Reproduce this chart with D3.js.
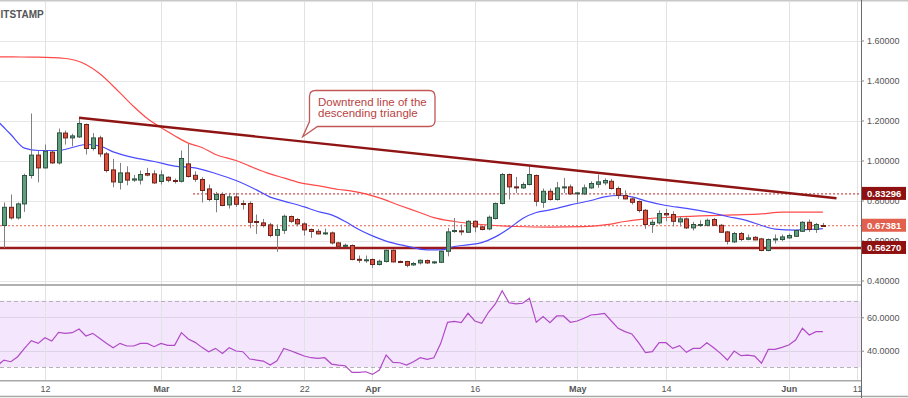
<!DOCTYPE html>
<html>
<head>
<meta charset="utf-8">
<script src="https://cdn.jsdelivr.net/npm/d3@7"></script>
<style>
html, body { margin: 0; padding: 0; background: #fff; overflow: hidden; }
svg { display: block; font-family: "Liberation Sans", Arial, sans-serif; }
</style>
</head>
<body>
<script>
// XRP/USD daily, Bitstamp -- candles from Feb 6 2018 (day 0) to Jun 6 2018 (day 120)
var startDay = "2018-02-06";
var endDay = "2018-06-11";

var opens = [0.675,0.766,0.713,0.783,0.925,1.027,0.963,1.042,0.988,1.137,
  1.113,1.118,1.18,1.06,1.113,1.033,0.953,0.891,0.938,0.902,
  0.902,0.935,0.933,0.895,0.916,0.9,0.896,0.983,0.926,0.905,
  0.858,0.805,0.83,0.778,0.818,0.785,0.785,0.695,0.688,0.678,
  0.626,0.651,0.72,0.705,0.683,0.655,0.646,0.633,0.638,0.588,
  0.571,0.575,0.506,0.5,0.505,0.48,0.495,0.551,0.495,0.495,
  0.478,0.488,0.5,0.488,0.491,0.546,0.645,0.648,0.641,0.696,
  0.668,0.658,0.71,0.785,0.93,0.868,0.863,0.88,0.925,0.791,
  0.846,0.805,0.863,0.868,0.833,0.833,0.863,0.881,0.888,0.896,
  0.86,0.825,0.808,0.795,0.751,0.68,0.688,0.735,0.73,0.693,
  0.708,0.663,0.675,0.676,0.705,0.676,0.643,0.593,0.635,0.606,
  0.616,0.608,0.55,0.603,0.605,0.613,0.621,0.646,0.691,0.655,
  0.675];
var highs = [0.79,0.83,0.79,0.934,1.235,1.047,1.08,1.05,1.16,1.15,
  1.134,1.213,1.185,1.137,1.124,1.042,1.008,0.988,0.971,0.928,
  0.95,0.963,0.951,0.951,0.921,0.91,1.05,1.083,0.946,0.916,
  0.88,0.843,0.841,0.838,0.838,0.801,0.796,0.73,0.708,0.688,
  0.68,0.73,0.725,0.713,0.691,0.66,0.658,0.66,0.645,0.593,
  0.585,0.58,0.525,0.525,0.51,0.505,0.555,0.555,0.5,0.498,
  0.493,0.505,0.505,0.498,0.55,0.663,0.713,0.68,0.701,0.701,
  0.675,0.725,0.79,0.938,0.935,0.918,0.891,0.975,0.93,0.86,
  0.86,0.893,0.913,0.88,0.843,0.88,0.896,0.93,0.911,0.908,
  0.87,0.851,0.818,0.8,0.758,0.705,0.751,0.758,0.746,0.721,
  0.715,0.693,0.701,0.71,0.713,0.683,0.648,0.643,0.643,0.63,
  0.622,0.613,0.61,0.63,0.63,0.634,0.655,0.697,0.705,0.688,
  0.688];
var lows = [0.563,0.705,0.705,0.743,0.91,0.891,0.96,0.983,0.98,1.08,
  1.071,1.113,1.03,1.05,1.017,0.94,0.866,0.855,0.876,0.893,
  0.88,0.921,0.883,0.88,0.891,0.885,0.89,0.915,0.893,0.79,
  0.796,0.741,0.771,0.76,0.768,0.755,0.661,0.633,0.665,0.616,
  0.543,0.633,0.688,0.671,0.625,0.613,0.63,0.628,0.58,0.565,
  0.568,0.501,0.488,0.488,0.463,0.475,0.49,0.49,0.488,0.466,
  0.473,0.48,0.482,0.483,0.487,0.521,0.638,0.626,0.638,0.641,
  0.651,0.651,0.705,0.78,0.805,0.838,0.858,0.875,0.771,0.763,
  0.8,0.8,0.838,0.828,0.788,0.828,0.858,0.863,0.876,0.855,
  0.808,0.806,0.78,0.74,0.658,0.638,0.68,0.696,0.671,0.67,
  0.658,0.65,0.668,0.67,0.675,0.638,0.58,0.588,0.597,0.601,
  0.601,0.546,0.546,0.585,0.597,0.61,0.618,0.643,0.643,0.638,
  0.668];
var closes = [0.766,0.713,0.783,0.925,1.027,0.963,1.046,0.988,1.138,1.113,
  1.123,1.185,1.06,1.113,1.033,0.95,0.893,0.938,0.902,0.908,
  0.93,0.927,0.888,0.928,0.901,0.895,1.01,0.92,0.906,0.85,
  0.805,0.83,0.775,0.818,0.781,0.781,0.691,0.691,0.675,0.625,
  0.655,0.721,0.696,0.683,0.653,0.645,0.633,0.638,0.588,0.571,
  0.576,0.505,0.503,0.5035,0.48,0.496,0.551,0.493,0.491,0.476,
  0.485,0.501,0.488,0.493,0.546,0.643,0.65,0.643,0.696,0.668,
  0.655,0.716,0.785,0.93,0.868,0.863,0.88,0.93,0.796,0.846,
  0.805,0.863,0.868,0.833,0.838,0.863,0.885,0.893,0.9,0.86,
  0.826,0.808,0.791,0.75,0.68,0.691,0.735,0.728,0.696,0.708,
  0.663,0.68,0.68,0.701,0.676,0.641,0.596,0.635,0.605,0.613,
  0.603,0.55,0.605,0.608,0.618,0.625,0.65,0.691,0.655,0.68,
  0.6738];

// moving averages (day offset from startDay)
var sma20Days = [-1,0,1,3,5,8,10,12,14,16,19,22,25,28,31,34,37,39,41,44,46,48,50,52,54,56,59,62,64,66,68,70,72,74,76,78,80,83,86,88,90,92,94,97,100,103,106,109,111,113,116,118,120];
var sma20 = [1.2,1.165,1.13,1.062,1.05,1.05,1.065,1.08,1.073,1.043,1.014,0.995,0.972,0.963,0.935,0.9,0.853,0.817,0.797,0.768,0.745,0.728,0.695,0.655,0.623,0.597,0.572,0.553,0.553,0.57,0.578,0.589,0.618,0.66,0.71,0.74,0.753,0.778,0.8,0.818,0.825,0.818,0.798,0.775,0.761,0.743,0.72,0.698,0.675,0.657,0.652,0.655,0.659];
var sma50Days = [-1,0,5,9,12,14,17,19,21,23,25,27,29,31,34,36,39,41,44,46,49,51,53,55,58,61,63,66,70,75,80,85,88,91,94,97,102,107,111,114,120];
var sma50 = [1.519,1.518,1.517,1.51,1.48,1.435,1.338,1.27,1.21,1.165,1.124,1.087,1.065,1.03,1.0,0.972,0.933,0.913,0.884,0.874,0.855,0.847,0.833,0.813,0.775,0.739,0.714,0.695,0.68,0.67,0.667,0.669,0.678,0.695,0.708,0.715,0.723,0.728,0.733,0.742,0.742];

// RSI(14), day -1 .. day 120
var rsiFirstDay = -1;
var rsi = [31,34.4,33.4,36.4,41.4,46,44.4,47.8,45.8,51,50.4,
  50.8,53,48.8,50.4,47.4,44.4,41.8,44.4,42.8,42.8,
  44.4,44.4,42.4,44.4,43.2,43.2,50.8,47,45,42,
  39.4,41.4,38.4,41.8,39.8,39.4,35,34.4,33.8,31.4,
  34,41.4,40,38.4,36.8,35.8,35.4,35.8,32,31.4,
  31,27,27,27.4,25.8,28.4,37.4,33,32.8,31.4,
  33.4,35.8,34.8,35.8,44.4,57,57.5,56.8,62.4,57.8,
  56.4,63,68,75.9,68.7,68,68.4,71.4,57,60.4,
  56.8,60.8,60.8,57,57.8,59.4,61.4,61.8,62.4,57.8,
  53.4,51.4,50,44.8,38.8,39.4,44.8,44.8,41.4,43,
  39,41.4,41.4,44.8,41.8,38.4,34.4,39.8,37,37.4,
  36.8,32.5,40.8,40.8,42,43.4,46.4,53.4,49.4,51.4,51.4];

var priceTicks = [0.4, 0.6, 0.8, 1.0, 1.2, 1.4, 1.6];
var rsiTicks = [40, 60];
var rsiBand = [30, 70];
var dateTicks = ["2018-02-12","2018-03-01","2018-03-12","2018-03-22","2018-04-01","2018-04-16","2018-05-01","2018-05-14","2018-06-01","2018-06-11"];
var dateLabels = ["12","Mar","12","22","Apr","16","May","14","Jun","11"];

var resistance = 0.83296, resistanceFrom = 28;
var lastPrice = 0.67381;
var support = 0.56270;
var trendDays = [11, 122];
var trendValues = [1.2135, 0.8115];
var noteLines = ["Downtrend line of the", "descending triangle"];
var titleText = "ITSTAMP";   // the part of the symbol title left inside the frame

var width = 908, height = 398, axisX = 861;
var priceTop = 2, priceBottom = 284, rsiTop = 286, rsiBottom = 380;

var parseDay = d3.utcParse("%Y-%m-%d");
var day0 = parseDay(startDay);
function dayAt(i) { return d3.utcDay.offset(day0, i); }

var x = d3.scaleUtc()
    .domain([day0, parseDay(endDay)])
    .range([4, 857]);
var y = d3.scaleLinear()
    .domain([0.4, 1.6])
    .range([280.5, 40.5]);
var yr = d3.scaleLinear()
    .domain([40, 60])
    .range([350.7, 317.3]);

var svg = d3.select("body")
    .append("svg")
    .attr("width", width)
    .attr("height", height);

var defs = svg.append("defs");
defs.append("clipPath").attr("id", "clipPrice")
    .append("rect").attr("x", 0).attr("y", priceTop).attr("width", axisX).attr("height", priceBottom - priceTop);
defs.append("clipPath").attr("id", "clipRsi")
    .append("rect").attr("x", 0).attr("y", rsiTop).attr("width", axisX).attr("height", rsiBottom - rsiTop);

var tickDates = dateTicks.map(parseDay);

// RSI band first so the grid shows on top of it
svg.append("rect")
    .attr("x", 0).attr("width", axisX)
    .attr("y", yr(rsiBand[1])).attr("height", yr(rsiBand[0]) - yr(rsiBand[1]))
    .attr("fill", "#f4e6fd");

// grid
var grid = svg.append("g");
grid.selectAll(".hgrid").data(priceTicks).enter().append("line")
    .attr("x1", 0).attr("x2", axisX)
    .attr("y1", function(d) { return Math.round(y(d)) + 0.5; })
    .attr("y2", function(d) { return Math.round(y(d)) + 0.5; })
    .attr("stroke", "#e6e6e6");
grid.selectAll(".rgrid").data(rsiTicks).enter().append("line")
    .attr("x1", 0).attr("x2", axisX)
    .attr("y1", function(d) { return Math.round(yr(d)) + 0.5; })
    .attr("y2", function(d) { return Math.round(yr(d)) + 0.5; })
    .attr("stroke", "#ddd3e6");
[[priceTop, priceBottom], [rsiTop, rsiBottom]].forEach(function(span) {
    grid.selectAll(null).data(tickDates).enter().append("line")
        .attr("x1", function(d) { return Math.round(x(d)) + 0.5; })
        .attr("x2", function(d) { return Math.round(x(d)) + 0.5; })
        .attr("y1", span[0]).attr("y2", span[1])
        .attr("stroke", "#e2e2e2");
});
svg.selectAll(".band").data(rsiBand).enter().append("line")
    .attr("x1", 0).attr("x2", axisX)
    .attr("y1", function(d) { return Math.round(yr(d)) + 0.5; })
    .attr("y2", function(d) { return Math.round(yr(d)) + 0.5; })
    .attr("stroke", "#b4b4b4")
    .attr("stroke-dasharray", "4,3");

// price panel
var plot = svg.append("g").attr("clip-path", "url(#clipPrice)");

plot.append("line")
    .attr("x1", x(dayAt(resistanceFrom)) - 2).attr("x2", axisX)
    .attr("y1", y(resistance)).attr("y2", y(resistance))
    .attr("stroke", "#b22222").attr("stroke-width", 1)
    .attr("stroke-dasharray", "2,2");
plot.append("line")
    .attr("x1", 0).attr("x2", axisX)
    .attr("y1", y(lastPrice)).attr("y2", y(lastPrice))
    .attr("stroke", "#e8604f").attr("stroke-width", 1)
    .attr("stroke-dasharray", "2,2");
plot.append("line")
    .attr("x1", 0).attr("x2", axisX)
    .attr("y1", y(support)).attr("y2", y(support))
    .attr("stroke", "#9a1b1b").attr("stroke-width", 2.6);

var maLine = d3.line()
    .x(function(d) { return x(dayAt(d[0])); })
    .y(function(d) { return y(d[1]); })
    .curve(d3.curveMonotoneX);

plot.append("path")
    .datum(d3.zip(sma50Days, sma50))
    .attr("d", maLine)
    .attr("fill", "none").attr("stroke", "#ff4a4a").attr("stroke-width", 1.2);
plot.append("path")
    .datum(d3.zip(sma20Days, sma20))
    .attr("d", maLine)
    .attr("fill", "none").attr("stroke", "#4b4bff").attr("stroke-width", 1.2);

// candles
var candles = opens.map(function(o, i) {
    return { date: dayAt(i), open: o, high: highs[i], low: lows[i], close: closes[i] };
});
var bodyW = 4;
var candle = plot.selectAll(".candle")
    .data(candles)
    .enter().append("g")
    .attr("class", "candle");
candle.append("line")
    .attr("x1", function(d) { return Math.round(x(d.date)) + 0.5; })
    .attr("x2", function(d) { return Math.round(x(d.date)) + 0.5; })
    .attr("y1", function(d) { return y(d.high); })
    .attr("y2", function(d) { return y(d.low); })
    .attr("stroke", "#808080");
candle.append("rect")
    .attr("x", function(d) { return Math.round(x(d.date)) + 0.5 - bodyW / 2; })
    .attr("y", function(d) { return y(Math.max(d.open, d.close)); })
    .attr("width", bodyW)
    .attr("height", function(d) { return Math.max(1, Math.abs(y(d.open) - y(d.close))); })
    .attr("fill", function(d) { return d.close >= d.open ? "#5f9e7e" : "#d9503e"; })
    .attr("stroke", function(d) { return d.close >= d.open ? "#2f5442" : "#6e2219"; })
    .attr("stroke-width", 1);

// trend line
plot.append("line")
    .attr("x1", x(dayAt(trendDays[0]))).attr("y1", y(trendValues[0]))
    .attr("x2", x(dayAt(trendDays[1]))).attr("y2", y(trendValues[1]))
    .attr("stroke", "#8f1414").attr("stroke-width", 2.4);

// callout
var bx = 309.5, by = 90.5, bw = 125.5, bh = 36, r = 6;
var tip = [302.7, 136.7];
var callout = "M" + (bx + r) + "," + by
    + "H" + (bx + bw - r) + "Q" + (bx + bw) + "," + by + " " + (bx + bw) + "," + (by + r)
    + "V" + (by + bh - r) + "Q" + (bx + bw) + "," + (by + bh) + " " + (bx + bw - r) + "," + (by + bh)
    + "H" + (bx + 8) + "L" + tip[0] + "," + tip[1]
    + "L" + bx + "," + (by + bh - 5)
    + "V" + (by + r) + "Q" + bx + "," + by + " " + (bx + r) + "," + by + "Z";
svg.append("path")
    .attr("d", callout)
    .attr("fill", "#fff")
    .attr("stroke", "#c25757").attr("stroke-width", 1.3);
svg.append("g").selectAll("text").data(noteLines).enter().append("text")
    .attr("x", 318)
    .attr("y", function(d, i) { return 106 + i * 11; })
    .attr("fill", "#b84444")
    .style("font-size", "11.5px")
    .text(function(d) { return d; });

// RSI line
svg.append("g").attr("clip-path", "url(#clipRsi)")
    .append("path")
    .datum(rsi)
    .attr("d", d3.line()
        .x(function(d, i) { return x(dayAt(i + rsiFirstDay)); })
        .y(function(d) { return yr(d); }))
    .attr("fill", "none").attr("stroke", "#b04ac6").attr("stroke-width", 1.2);

// panel borders
svg.append("rect").attr("x", 0).attr("y", 0).attr("width", width).attr("height", 1.5).attr("fill", "#c8c8c8");
svg.append("rect").attr("x", 0).attr("y", priceBottom).attr("width", axisX).attr("height", 2).attr("fill", "#b0b0b0");
svg.append("rect").attr("x", 0).attr("y", rsiBottom).attr("width", axisX).attr("height", 1.5).attr("fill", "#a8a8a8");
svg.append("rect").attr("x", 0).attr("y", 395.7).attr("width", width).attr("height", 1.5).attr("fill", "#a8a8a8");
svg.append("line")
    .attr("x1", axisX + 0.5).attr("x2", axisX + 0.5).attr("y1", 0).attr("y2", height)
    .attr("stroke", "#6a6a6a");

// axes
function styleAxis(g) {
    g.select(".domain").remove();
    g.selectAll(".tick line").attr("stroke", "#888");
    g.selectAll(".tick text").attr("fill", "#555").style("font-size", "9px").style("font-family", "Liberation Sans, Arial, sans-serif");
}
svg.append("g")
    .attr("transform", "translate(" + axisX + ",0)")
    .call(d3.axisRight(y).tickValues(priceTicks).tickFormat(d3.format(".5f")).tickSize(3).tickPadding(3))
    .call(styleAxis);
svg.append("g")
    .attr("transform", "translate(" + axisX + ",0)")
    .call(d3.axisRight(yr).tickValues(rsiTicks).tickFormat(d3.format(".4f")).tickSize(3).tickPadding(3))
    .call(styleAxis);
var xAxis = svg.append("g")
    .attr("transform", "translate(0," + (rsiBottom + 1) + ")")
    .call(d3.axisBottom(x).tickValues(tickDates).tickFormat(function(d, i) { return dateLabels[i]; }).tickSize(0).tickPadding(5))
    .call(styleAxis);
xAxis.selectAll(".tick text")
    .style("font-weight", function(d, i) { return /[A-Za-z]/.test(dateLabels[i]) ? "bold" : "normal"; });

// price labels on the axis
var tags = [
    { value: resistance, fill: "#8e1010" },
    { value: lastPrice, fill: "#e2604e" },
    { value: support, fill: "#8e1010" }
];
var tag = svg.selectAll(".tag").data(tags).enter().append("g")
    .attr("transform", function(d) { return "translate(" + (axisX + 1) + "," + y(d.value) + ")"; });
tag.append("rect")
    .attr("x", 0).attr("y", -7).attr("width", width - axisX - 3).attr("height", 13)
    .attr("fill", function(d) { return d.fill; });
tag.append("text")
    .attr("x", 5).attr("dy", "0.33em")
    .attr("fill", "#fff")
    .style("font-size", "9.5px").style("font-weight", "bold")
    .text(function(d) { return d3.format(".5f")(d.value); });

// symbol title
svg.append("text")
    .attr("x", 0.5).attr("y", 18.3)
    .attr("fill", "#555")
    .style("font-size", "10px").style("font-weight", "bold")
    .text(titleText);
</script>
</body>
</html>
